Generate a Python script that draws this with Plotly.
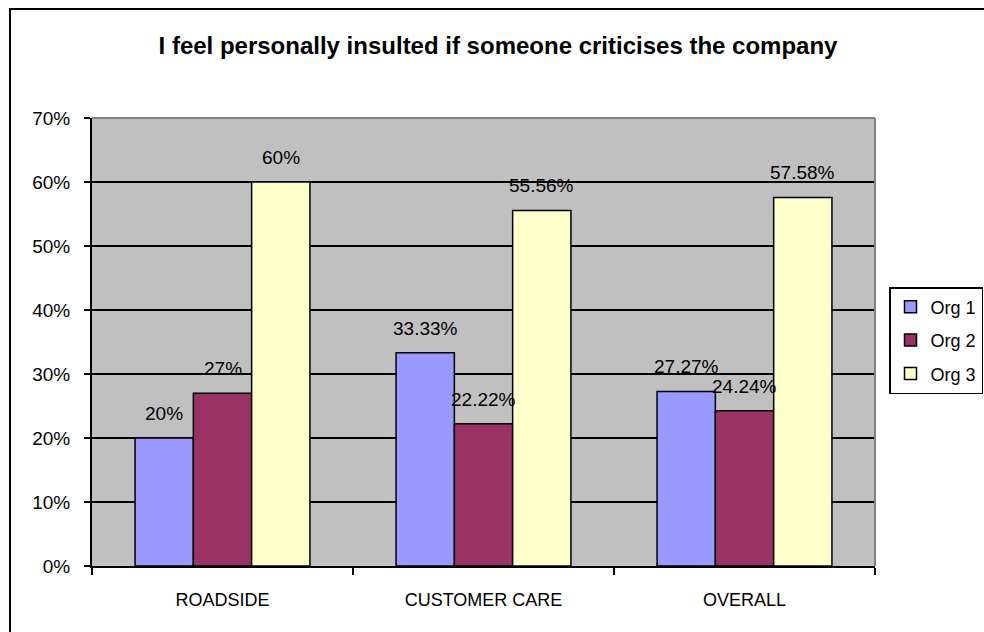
import plotly.graph_objects as go

# Survey results: share of respondents agreeing with the statement
categories = ["ROADSIDE", "CUSTOMER CARE", "OVERALL"]
series_names = ["Org 1", "Org 2", "Org 3"]
org1 = [0.20, 0.3333, 0.2727]
org2 = [0.27, 0.2222, 0.2424]
org3 = [0.60, 0.5556, 0.5758]
labels1 = ["20%", "33.33%", "27.27%"]
labels2 = ["27%", "22.22%", "24.24%"]
labels3 = ["60%", "55.56%", "57.58%"]
y_ticks = [0, 0.1, 0.2, 0.3, 0.4, 0.5, 0.6, 0.7]
y_tick_text = ["0%", "10%", "20%", "30%", "40%", "50%", "60%", "70%"]

colors = ["#9999FF", "#993366", "#FFFFCC"]
font = "Liberation Sans, Arial, sans-serif"

W, H = 984, 632
M_L, M_R, M_T, M_B = 92, 109, 118, 66
plot_w = W - M_L - M_R
plot_h = H - M_T - M_B
bargap = 0.33
bar_px = plot_w / len(categories) * (1 - bargap) / 3

fig = go.Figure()
for i, (name, vals) in enumerate(zip(series_names, [org1, org2, org3])):
    fig.add_trace(go.Bar(
        x=categories, y=vals, name=name, legendgroup=name,
        marker=dict(color=colors[i], line=dict(color="black", width=1.5)),
    ))

# Value labels above each bar
for i, (vals, labs) in enumerate(zip([org1, org2, org3], [labels1, labels2, labels3])):
    for cat, v, t in zip(categories, vals, labs):
        fig.add_annotation(
            x=cat, y=v, text=t, showarrow=False,
            xshift=(i - 1) * bar_px, yshift=24.5,
            font=dict(family=font, size=19, color="black"),
        )

# Gray top/right edge of the plot area
fig.add_shape(type="line", xref="x domain", yref="y domain",
              x0=0, x1=1, y0=1, y1=1, line=dict(color="#808080", width=2))
fig.add_shape(type="line", xref="x domain", yref="y domain",
              x0=1, x1=1, y0=0, y1=1, line=dict(color="#808080", width=2))

# Chart frame
fig.add_shape(type="rect", xref="paper", yref="paper",
              x0=(10 - M_L) / plot_w, x1=(1000 - M_L) / plot_w,
              y0=(H - M_B - 650) / plot_h, y1=(H - M_B - 9) / plot_h,
              line=dict(color="black", width=2), fillcolor="rgba(0,0,0,0)", layer="below")

fig.update_layout(
    width=W, height=H,
    margin=dict(l=M_L, r=M_R, t=M_T, b=M_B, autoexpand=False),
    paper_bgcolor="white", plot_bgcolor="#C0C0C0",
    barmode="group", bargap=bargap, bargroupgap=0,
    title=dict(text="<b>I feel personally insulted if someone criticises the company</b>",
               x=498 / W, xanchor="center", y=1 - 46 / H, yanchor="middle",
               font=dict(family=font, size=24, color="black")),
    font=dict(family=font, size=19, color="black"),
    showlegend=True,
    legend=dict(x=(889 - M_L) / plot_w, xanchor="left",
                y=(H - M_B - 287) / plot_h, yanchor="top",
                bordercolor="black", borderwidth=1.5, bgcolor="white",
                font=dict(family=font, size=18, color="black"),
                itemwidth=30, tracegroupgap=7, traceorder="grouped"),
    xaxis=dict(type="category", showline=True, linecolor="black", linewidth=2,
               ticks="outside", tickson="boundaries", ticklen=7, tickcolor="black",
               tickwidth=1.5, showgrid=False, zeroline=False, ticklabelstandoff=16,
               tickfont=dict(family=font, size=18, color="black")),
    yaxis=dict(range=[0, 0.7], tickvals=y_ticks, ticktext=y_tick_text,
               showline=True, linecolor="black", linewidth=2,
               ticks="outside", ticklen=6, tickcolor="black", tickwidth=1.5,
               showgrid=True, gridcolor="black", gridwidth=1.5, zeroline=False,
               ticklabelstandoff=10,
               tickfont=dict(family=font, size=19, color="black")),
)

fig.write_html("out.html")
